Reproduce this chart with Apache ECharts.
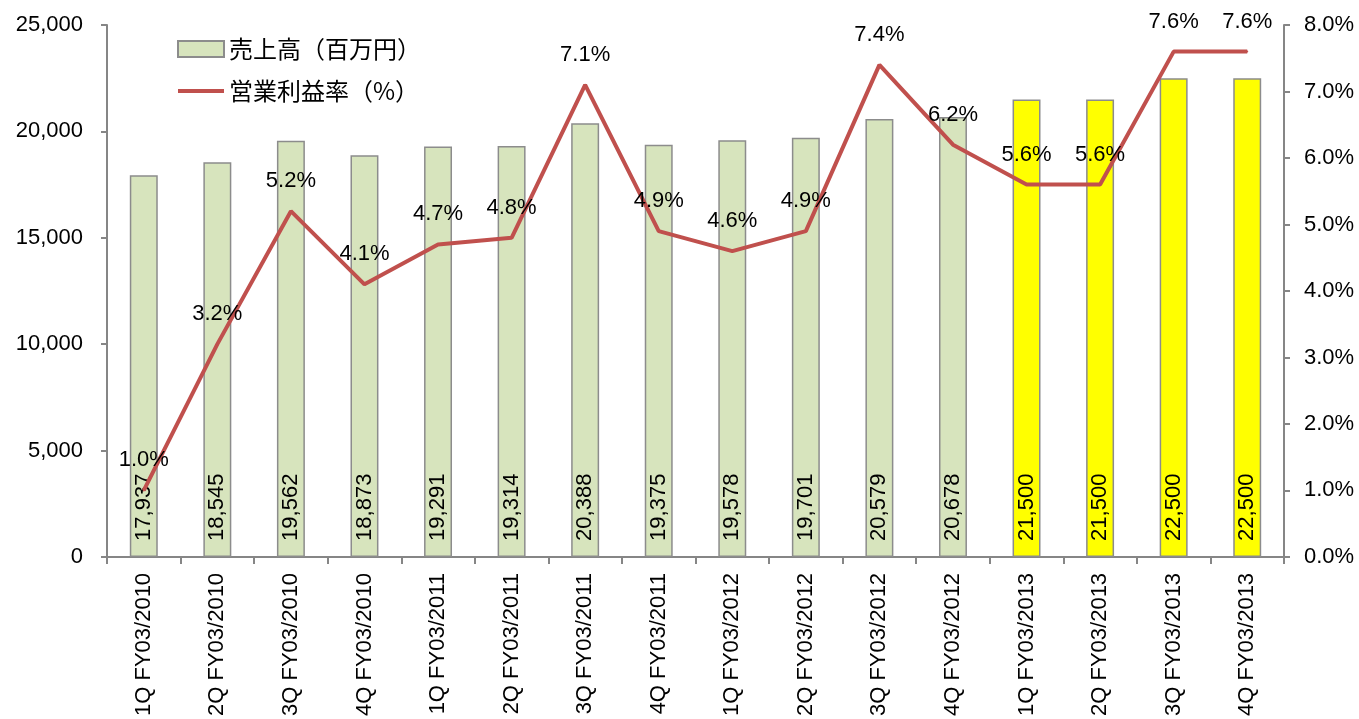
<!DOCTYPE html>
<html>
<head>
<meta charset="utf-8">
<script src="https://cdn.jsdelivr.net/npm/echarts@6/dist/echarts.min.js"></script>
<style>
  html, body { margin: 0; padding: 0; background: #fff; }
  #main { width: 1359px; height: 719px; }
</style>
</head>
<body>
<div id="main"></div>
<script>
// 四半期
var categories = [
  '1Q FY03/2010', '2Q FY03/2010', '3Q FY03/2010', '4Q FY03/2010',
  '1Q FY03/2011', '2Q FY03/2011', '3Q FY03/2011', '4Q FY03/2011',
  '1Q FY03/2012', '2Q FY03/2012', '3Q FY03/2012', '4Q FY03/2012',
  '1Q FY03/2013', '2Q FY03/2013', '3Q FY03/2013', '4Q FY03/2013'
]
// 売上高（百万円）
var sales = [17937, 18545, 19562, 18873, 19291, 19314, 20388, 19375, 19578, 19701, 20579, 20678, 21500, 21500, 22500, 22500]
// 営業利益率（%）
var margin = [1.0, 3.2, 5.2, 4.1, 4.7, 4.8, 7.1, 4.9, 4.6, 4.9, 7.4, 6.2, 5.6, 5.6, 7.6, 7.6]
// 予想（黄色）
var forecast = [false, false, false, false, false, false, false, false, false, false, false, false, true, true, true, true]

var font = 'Liberation Sans'
var axisGray = '#868686'
var red = '#c0504d'

var barData = sales.map(function (v, i) {
  return forecast[i] ? { value: v, itemStyle: { color: '#ffff00' } } : v
})

var option = {
  animation: false,
  backgroundColor: '#fff',
  textStyle: { fontFamily: font },
  grid: { left: 107, right: 75, top: 25, bottom: 161 },
  legend: {
    orient: 'vertical',
    left: 172,
    top: 32,
    itemGap: 18,
    itemWidth: 46,
    itemHeight: 16,
    symbolKeepAspect: true,
    textStyle: { fontSize: 24, color: '#000', fontFamily: 'Noto Sans CJK JP' },
    data: [
      { name: '売上高（百万円）', icon: 'rect' },
      { name: '営業利益率（%）', icon: 'path://M0,0 L46,0 L46,4 L0,4 Z', itemStyle: { color: red, opacity: 1 } }
    ]
  },
  xAxis: {
    type: 'category',
    data: categories,
    axisLine: { lineStyle: { color: axisGray, width: 2 } },
    axisTick: { show: true, length: 7, lineStyle: { color: axisGray, width: 2 } },
    axisLabel: { rotate: 90, fontSize: 22, color: '#000', margin: 16, interval: 0 }
  },
  yAxis: [
    {
      type: 'value',
      min: 0,
      max: 25000,
      interval: 5000,
      splitLine: { show: false },
      axisLine: { show: true, lineStyle: { color: axisGray, width: 2 } },
      axisTick: { show: true, length: 6, lineStyle: { color: axisGray, width: 2 } },
      axisLabel: {
        fontSize: 22, color: '#000', margin: 24,
        formatter: function (v) { return v.toLocaleString('en-US') }
      }
    },
    {
      type: 'value',
      min: 0,
      max: 8,
      interval: 1,
      position: 'right',
      splitLine: { show: false },
      axisLine: { show: true, lineStyle: { color: axisGray, width: 2 } },
      axisTick: { show: true, length: 6, lineStyle: { color: axisGray, width: 2 } },
      axisLabel: {
        fontSize: 22, color: '#000', margin: 20,
        formatter: function (v) { return v.toFixed(1) + '%' }
      }
    }
  ],
  series: [
    {
      name: '売上高（百万円）',
      type: 'bar',
      barWidth: '38%',
      data: barData,
      itemStyle: { color: '#d7e4bd', borderColor: '#8c8c8c', borderWidth: 1.5 },
      label: {
        show: true,
        position: 'insideBottom',
        rotate: 90,
        align: 'left',
        verticalAlign: 'middle',
        distance: 16,
        fontSize: 22,
        color: '#000',
        formatter: function (p) { return p.value.toLocaleString('en-US') }
      },
      z: 2
    },
    {
      name: '営業利益率（%）',
      type: 'line',
      yAxisIndex: 1,
      data: margin,
      symbol: 'circle',
      symbolSize: 2,
      showSymbol: true,
      itemStyle: { color: red },
      lineStyle: { color: red, width: 4 },
      label: {
        show: true,
        position: 'top',
        distance: 18,
        fontSize: 22,
        color: '#000',
        formatter: function (p) { return p.value.toFixed(1) + '%' }
      },
      z: 3
    }
  ]
}

var myChart = echarts.init(document.getElementById('main'))
myChart.setOption(option)
</script>
</body>
</html>
